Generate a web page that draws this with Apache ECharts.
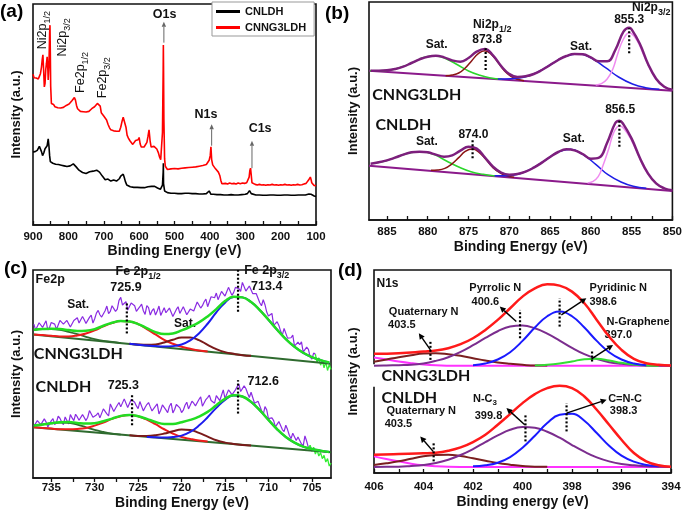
<!DOCTYPE html>
<html><head><meta charset="utf-8">
<script src="https://cdn.jsdelivr.net/npm/echarts@6/dist/echarts.min.js"></script>
<style>html,body{margin:0;padding:0;background:#fff}#c{width:685px;height:511px}</style>
</head><body><div id="c"></div>
<script>
// ---------- Panel (a): XPS survey ----------
const aRedX = [900,897,894,891,888,885,882,879,876,874,872,870,868,866,864,862,860,858,857,855,853,852,851,850,848,845,842,838,834,830,826,822,818,814,810,806,802,798,794,790,786,783,780,777,774,770,766,762,758,754,750,746,742,738,734,730,726,722,718,715,713,710,707,704,700,696,692,688,684,680,676,672,668,664,660,656,652,648,645,642,640,637,634,630,626,622,618,614,610,606,603,600,597,594,590,586,582,578,575,572,569,566,562,558,554,550,546,542,539,536,534,532,531.5,531,530,528,526,524,520,515,510,505,500,495,490,485,480,475,470,465,460,455,450,445,440,435,430,425,420,415,410,406,402,399,397,395,392,388,384,380,376,372,369,366,362,356,350,344,338,332,326,320,314,308,302,296,292,289,287,285,283,281,278,272,266,260,254,248,242,236,230,224,218,212,206,200,194,188,182,176,170,164,158,152,146,140,134,128,124,121,118,116,114,112,109,106,103,100];
const aRedY = [456,446,452,445,448,442,450,458,478,500,515,470,418,428,470,489,509,470,439,480,580,605,520,420,368,362,365,358,362,355,360,354,360,356,358,362,360,366,370,376,382,386,378,362,352,348,344,340,343,338,342,346,344,348,352,355,358,362,368,374,372,360,340,335,330,325,318,305,295,288,290,285,288,284,282,284,296,315,326,330,322,295,272,262,255,250,244,250,256,262,258,265,245,236,232,236,238,250,268,288,255,236,232,238,236,230,220,205,198,200,280,470,545,480,320,200,178,172,168,166,170,168,171,168,170,168,172,170,173,171,174,172,175,174,176,175,178,177,180,181,183,188,196,210,237,198,182,176,170,166,160,150,135,125,124,126,124,127,125,126,124,127,125,127,126,128,130,145,165,172,150,128,122,123,121,123,121,122,120,122,121,123,121,122,120,122,121,123,121,122,120,122,121,123,121,122,124,126,130,136,142,145,138,128,122,120,121,119];
const aBlkX = [900,897,894,891,888,885,882,879,876,873,871,869,866,863,860,857,855,853,851,848,844,840,836,832,828,824,820,816,812,808,804,800,795,790,786,782,778,774,770,765,760,755,750,745,740,735,730,725,720,716,712,708,704,700,696,692,688,684,680,676,672,668,664,660,656,652,648,645,642,639,635,630,625,620,615,610,605,600,595,590,585,580,575,570,565,560,556,552,548,544,540,536,534,532,531.5,531,528,524,520,515,510,500,490,480,470,460,450,440,430,420,410,405,402,400,397,390,380,370,360,350,340,330,320,310,300,294,290,288,286,283,280,270,260,250,240,230,220,210,200,190,180,170,160,150,140,130,125,120,117,114,110,105,100];
const aBlkY = [221,216,222,218,226,230,238,236,222,210,206,220,231,226,240,261,240,210,192,189,187,186,184,185,183,182,181,180,179,178,177,176,179,183,185,182,176,170,166,162,159,157,156,159,161,162,163,165,166,165,160,155,148,143,137,138,139,135,133,136,136,134,133,136,140,148,152,154,144,132,121,118,116,115,114,116,114,115,113,114,113,114,116,115,117,119,117,114,112,110,108,106,121,160,187,125,103,100,98,97,96,96,95,95,96,96,95,95,94,94,95,96,103,99,93,93,92,92,91,91,92,91,91,92,93,95,100,104,102,95,91,91,91,90,90,91,91,90,90,91,91,90,90,91,91,91,92,94,96,93,90,88,86];
const aTicks = [100,150,200,250,300,350,400,450,500,550,600,650,700,750,800,850,900];
const aLabels = [100,200,300,400,500,600,700,800,900];

// ---------- Panel (b): Ni 2p ----------
const bEnvUX = [850,851,852,853,854,855,855.3,856,857,858,859,860,861,862,863,864,865,866,867,868,869,870,871,872,873,874,875,876,877,878,879,880,881,882,883,884,885,886,887];
const bEnvU  = [391,400,424,469,529,572,577,565,510,476,476,488,497,498,492,480,465,450,438,431,429,438,462,494,513,505,486,475,479,488,493,490,482,471,460,453,449,448,448];
const bEnvLX = [850,851,852,853,854,855,856,856.5,857,858,859,860,861,862,863,864,865,866,867,868,869,870,871,872,873,874,875,876,877,878,879,880,881,882,883,884,885,886,887];
const bEnvL  = [89,95,110,140,187,244,287,298,291,232,187,184,198,209,212,204,189,172,157,145,138,136,142,160,188,214,220,208,194,190,196,203,205,203,196,187,179,173,169];
const bBgX = [850, 887.2];
const bBgU = [388, 448];
const bBgL = [87, 163];
const bGrnUX = [870.9,872.3,873.6,875.0,876.3,877.7,879.0,880.4,881.7,883.1,884.4,885.8,887.1];
const bGrnU  = [422,426,434,447,465,483,492,488,474,460,451,448,448];
const bBrnUX = [868.2,869.0,869.8,870.6,871.4,872.2,873.0,873.8,874.6,875.4,876.2,877.0,877.8];
const bBrnU  = [418,422,431,448,473,497,508,499,478,456,441,435,433];
const bBluUX = [851.6,853.3,854.9,856.6,858.2,859.9,861.5,863.2,864.8,866.5,868.1,869.8,871.4];
const bBluU  = [392,397,408,429,457,485,499,490,468,444,429,424,423];
const bPnkUX = [850.0,850.8,851.7,852.6,853.5,854.4,855.3,856.0,856.7,857.3,858.0,858.7,859.4];
const bPnkU  = [390,397,413,446,494,541,562,543,499,453,423,409,405];
const bGrnLX = [871.7,873.2,874.7,876.2,877.7,879.2,880.7,882.2,883.7,885.2,886.7];
const bGrnL  = [132,137,145,159,177,196,205,202,190,177,170];
const bBrnLX = [869.4,870.3,871.1,872.0,872.8,873.7,874.5,875.4,876.2,877.1,877.9,878.8,879.6];
const bBrnL  = [128,132,141,157,180,203,213,206,187,167,155,150,149];
const bBluLX = [853.2,854.8,856.3,857.9,859.4,861.0,862.5,864.1,865.6,867.2,868.7,870.3,871.8];
const bBluL  = [95,101,114,136,167,197,212,203,179,155,139,133,133];
const bPnkLX = [850.2,851.3,852.3,853.4,854.4,855.5,856.5,857.2,857.8,858.5,859.1,859.8,860.4];
const bPnkL  = [90,98,117,153,207,259,283,262,214,164,130,115,111];
const bTicks = [850,852.5,855,857.5,860,862.5,865,867.5,870,872.5,875,877.5,880,882.5,885];
const bLabels = [850,855,860,865,870,875,880,885];

// ---------- Panel (c): Fe 2p ----------
const cRawX = [737.0,736.6,736.2,735.8,735.4,735.0,734.6,734.2,733.8,733.4,733.0,732.6,732.2,731.8,731.4,731.0,730.6,730.2,729.8,729.4,729.0,728.6,728.2,727.8,727.4,727.0,726.6,726.2,725.8,725.4,725.0,724.6,724.2,723.8,723.4,723.0,722.6,722.2,721.8,721.4,721.0,720.6,720.2,719.8,719.4,719.0,718.6,718.2,717.8,717.4,717.0,716.6,716.2,715.8,715.4,715.0,714.6,714.2,713.8,713.4,713.0,712.6,712.2,711.8,711.4,711.0,710.6,710.2,709.8,709.4,709.0,708.6,708.2,707.8,707.4,707.0,706.6,706.2,705.8,705.4,705.0,704.6];
const cRawXmid = [736.8,736.4,736.0,735.6,735.2,734.8,734.4,734.0,733.6,733.2,732.8,732.4,732.0,731.6,731.2,730.8,730.4,730.0,729.6,729.2,728.8,728.4,728.0,727.6,727.2,726.8,726.4,726.0,725.6,725.2,724.8,724.4,724.0,723.6,723.2,722.8,722.4,722.0,721.6,721.2,720.8,720.4,720.0,719.6,719.2,718.8,718.4,718.0,717.6,717.2,716.8,716.4,716.0,715.6,715.2,714.8,714.4,714.0,713.6,713.2,712.8,712.4,712.0,711.6,711.2,710.8,710.4,710.0,709.6,709.2,708.8,708.4,708.0,707.6,707.2,706.8,706.4,706.0,705.6,705.2,704.8];
const cRawU = [461,446,468,452,444,466,461,449,477,457,468,453,475,464,484,463,481,464,494,489,485,515,499,515,506,541,515,503,524,516,501,521,490,510,501,488,515,491,495,509,484,505,493,513,489,506,500,527,509,528,513,543,540,534,559,545,571,547,571,567,586,560,575,552,552,525,534,497,488,457,468,440,448,419,420,395,407,408,375,385,356,371];
const cRawUmid = [443,465,451,471,450,462,445,472,461,472,452,472,480,462,474,463,488,477,502,482,501,492,516,499,532,518,528,508,528,499,513,501,516,488,507,500,487,510,492,504,485,513,495,508,488,511,502,528,516,536,518,540,554,535,555,541,575,556,571,559,585,563,574,549,551,516,519,485,493,456,457,428,443,417,428,396,399,377,392,363,374];
const cRawL = [155,172,160,177,153,171,160,185,168,183,162,180,191,173,190,172,202,182,189,180,207,192,222,199,218,213,237,211,235,227,208,226,211,226,201,215,192,219,204,215,195,220,210,203,227,205,224,217,243,217,241,232,224,251,248,238,264,249,264,281,256,268,241,253,225,226,190,204,176,172,151,168,139,145,118,137,123,102,126,91];
const cRawLmid = [157,177,156,168,151,178,167,179,160,181,190,172,183,171,195,182,203,179,195,182,204,186,219,209,226,213,240,215,230,216,229,201,220,213,200,222,203,215,196,224,205,218,196,218,207,230,216,235,215,235,248,228,247,232,264,243,257,245,274,259,276,254,257,224,230,202,214,178,180,153,169,145,158,128,134,112,126,96,110];
const cTailUX = [704.6,704.4,704.2,704.0,703.8,703.6,703.4,703.2,703.0,702.8];
const cTailU  = [371,345,360,338,352,330,348,322,340,325];
const cTailLX = [705.4,705.2,705.0,704.8,704.6,704.4,704.2,704.0,703.8,703.6,703.4,703.2,703.0,702.8];
const cTailL  = [91,98,80,92,72,84,66,76,58,68,48,58,36,45];
const cEnvX = [737,736,735,734,733,732,731,730,729,728,727,726,725,724,723,722,721,720,719,718,717,716,715,714,713,712,711,710,709,708,707,706,705,704,703];
const cEnvU = [444,446,447,446,443,440,441,446,456,465,470,469,461,449,437,431,433,442,453,466,484,506,530,543,541,527,503,474,444,416,393,375,362,353,346];
const cEnvL = [157,160,164,167,168,165,163,164,170,178,186,189,185,177,168,162,162,167,174,184,198,218,237,248,244,228,203,174,146,123,106,94,87,82,78];
const cSatX = [737,736,735,734,733,732,731,730,729,728,727];
const cSatU = [443,446,446,444,438,431,423,416,411,408,404];
const cSatL = [157,160,164,166,165,160,152,144,138,133,130];
const cRedX = [737,736,735,734,733,732,731,730,729,728,727,726,725,724,723,722,721,720,719,718,717];
const cRedU = [430,428,426,424,424,427,433,442,454,464,470,469,461,446,430,414,402,393,387,382,379];
const cRedL = [152,150,148,146,146,147,150,157,166,177,185,189,185,175,161,146,133,123,117,112,109];
const cBrnX = [726,725,724,723,722,721,720,719,718,717,716,715,714,713,712];
const cBrnU = [402,400,399,400,406,414,421,421,413,399,386,377,372,368,366];
const cBrnL = [128,126,126,128,133,140,145,144,135,124,113,106,102,99,97];
const cBluUX = [726,725,724,723,722,721,720,719,718,717,716,715,714,713,712,711,710,709,708,707,706,705,704,703];
const cBluU  = [402,399,397,395,394,395,400,412,433,462,496,525,542,541,527,503,474,444,416,393,375,362,353,346];
const cBluLX = [724,723,722,721,720,719,718,717,716,715,714,713,712,711,710,709,708,707,706,705,704,703];
const cBluL  = [123,122,121,123,127,138,157,182,210,234,247,244,228,203,174,146,123,106,94,87,82,78];
const cBgX = [737.1, 702.8];
const cBgU = [430, 342];
const cBgL = [152, 77];
const cTicks = [705,707.5,710,712.5,715,717.5,720,722.5,725,727.5,730,732.5,735];
const cLabels = [705,710,715,720,725,730,735];

// ---------- Panel (d): N 1s ----------
const dEnvX = [406,405,404,403.5,403,402.5,402,401.5,401,400.5,400,399.5,399,398.5,398,397.5,397,396.5,396,395.5,395,394.5,394];
const dEnvU = [358,360,365,368,375,387,405,430,460,495,530,555,567,563,545,510,460,410,370,343,330,325,323];
const dEnvL = [55,57,59,61,67,77,93,115,145,177,210,237,255,262,255,230,190,145,100,60,35,23,19];
const dMagX = [406,405.5,405,404.5,404,403.5,403,402,394];
const dMagU = [347,341,335,330,326,323.5,322.5,322,322];
const dMagL = [50,42,35,28,23,20,18.5,18,18];
const dQuaX = [406,405.5,405,404.5,404,403.5,403,402.5,402,401.5,401,400.5,400,399.5,399];
const dQuaU = [334,341,348,354,359,360,357,352,345,338,332,328,325,323,323];
const dQuaL = [24,29,35,43,50,54,55,51,44,37,30,25,21,19,19];
const dPyrX = [406,405.5,405,404.5,404,403.5,403,402.5,402,401.5,401,400.5,400,399.5,399,398.5,398,397.5,397,396.5,396,395.5,395,394.5,394];
const dPyrU = [322,323,324,325,329,337,348,364,384,406,426,440,443,435,419,398,376,357,343,333,328,325,323,322,322];
const dPyrL = [18,19,19,21,24,30,40,54,72,93,113,130,138,136,124,106,84,64,47,35,27,23,20,19,18];
const dPydUX = [402,401.5,401,400.5,400,399.5,399,398.5,398,397.5,397,396.5,396,395.5,395];
const dPydU  = [324,329,341,363,397,437,471,485,471,437,397,363,341,329,324];
const dPydLX = [402,401.5,401,400.5,400,399.5,399,398.5,398,397.5,397,396.5,396,395.5,395,394.5];
const dPydL  = [20,23,31,48,76,112,150,175,178,157,120,82,52,34,24,20];
const dGraX = [399.5,399,398.5,398,397.5,397,396.5,396,395.5,395,394.5];
const dGraU = [323,325,329,335,342,343,338,331,326,323,322];
const dTicks = [394,395,396,397,398,399,400,401,402,403,404,405,406];
const dLabels = [394,396,398,400,402,404,406];

// ---------- build ----------
const FONT = '"Liberation Sans", Arial, sans-serif';
const FONT2 = 'Lato, "Open Sans", sans-serif';
const INK = '#111';
function zip(xs, ys) { return xs.map((x, i) => [x, ys[i]]); }
function interleave(xa, ya, xb, yb) {
  const out = [];
  for (let i = 0; i < ya.length; i++) {
    out.push([xa[i], ya[i]]);
    if (i < yb.length) out.push([xb[i], yb[i]]);
  }
  return out;
}
const series = [];
function Ld(name, g, data, color, width, smooth) {
  series.push({
    type: 'line', name: name, xAxisIndex: g, yAxisIndex: g, data: data,
    symbol: 'none', showSymbol: false, smooth: smooth ? 0.45 : false,
    lineStyle: { color: color, width: width }, itemStyle: { color: color },
    silent: true, animation: false
  });
}
function L(name, g, xs, ys, color, width, smooth) { Ld(name, g, zip(xs, ys), color, width, smooth); }
// a
L('CNLDH', 0, aBlkX, aBlkY, '#000000', 1.6, false);
L('CNNG3LDH', 0, aRedX, aRedY, '#ff0000', 1.6, false);
// b
const BG = '#8B1A8B', GR = '#2BD62B', BR = '#8B1414', BL = '#1E1EE6', PK = '#F08CF0', EV = '#7D1F7D';
L('bBgU', 1, bBgX, bBgU, BG, 2, false);
L('bGrnU', 1, bGrnUX, bGrnU, GR, 1.5, true);
L('bBrnU', 1, bBrnUX, bBrnU, BR, 1.5, true);
L('bBluU', 1, bBluUX, bBluU, BL, 1.5, true);
L('bPnkU', 1, bPnkUX, bPnkU, PK, 1.5, true);
L('bEnvU', 1, bEnvUX, bEnvU, EV, 2.5, true);
L('bBgL', 1, bBgX, bBgL, BG, 2, false);
L('bGrnL', 1, bGrnLX, bGrnL, GR, 1.5, true);
L('bBrnL', 1, bBrnLX, bBrnL, BR, 1.5, true);
L('bBluL', 1, bBluLX, bBluL, BL, 1.5, true);
L('bPnkL', 1, bPnkLX, bPnkL, PK, 1.5, true);
L('bEnvL', 1, bEnvLX, bEnvL, EV, 2.5, true);
// c
const RAW = '#8A2BE2', TAIL = '#33EE33', DG = '#2F6B2F', CR = '#EE1C1C', CB = '#7A1A1A', CBL = '#1C1CEE', CEV = '#22DD22';
Ld('cRawU', 2, interleave(cRawX, cRawU, cRawXmid, cRawUmid), RAW, 1.2, false);
L('cTailU', 2, cTailUX, cTailU, TAIL, 1.3, false);
Ld('cRawL', 2, interleave(cRawX, cRawL, cRawXmid, cRawLmid), RAW, 1.2, false);
L('cTailL', 2, cTailLX, cTailL, TAIL, 1.3, false);
L('cBgU', 2, cBgX, cBgU, DG, 2, false);
L('cSatU', 2, cSatX, cSatU, DG, 1.8, true);
L('cRedU', 2, cRedX, cRedU, CR, 2, true);
L('cBrnU', 2, cBrnX, cBrnU, CB, 2, true);
L('cBluU', 2, cBluUX, cBluU, CBL, 2, true);
L('cEnvU', 2, cEnvX, cEnvU, CEV, 2.5, true);
L('cBgL', 2, cBgX, cBgL, DG, 2, false);
L('cSatL', 2, cSatX, cSatL, DG, 1.8, true);
L('cRedL', 2, cRedX, cRedL, CR, 2, true);
L('cBrnL', 2, cBrnX, cBrnL, CB, 2, true);
L('cBluL', 2, cBluLX, cBluL, CBL, 2, true);
L('cEnvL', 2, cEnvX, cEnvL, CEV, 2.5, true);
// d
const MG = '#FF33FF', DQ = '#7A1F1F', DP = '#7B2D8E', DB = '#1A1AFF', DGR = '#33DD33', DR = '#FF1A1A';
L('dMagU', 3, dMagX, dMagU, MG, 2, true);
L('dQuaU', 3, dQuaX, dQuaU, DQ, 2, true);
L('dPyrU', 3, dPyrX, dPyrU, DP, 2, true);
L('dGraU', 3, dGraX, dGraU, DGR, 2, true);
L('dPydU', 3, dPydUX, dPydU, DB, 2, true);
L('dEnvU', 3, dEnvX, dEnvU, DR, 2.5, true);
L('dMagL', 3, dMagX, dMagL, MG, 2, true);
L('dQuaL', 3, dQuaX, dQuaL, DQ, 2, true);
L('dPyrL', 3, dPyrX, dPyrL, DP, 2, true);
L('dPydL', 3, dPydLX, dPydL, DB, 2, true);
L('dEnvL', 3, dEnvX, dEnvL, DR, 2.5, true);

const grids = [
  { left: 33, top: 4, width: 283, height: 221 },
  { left: 369, top: 2, width: 304, height: 218 },
  { left: 33, top: 270, width: 298, height: 208 },
  { left: 374, top: 270, width: 297, height: 203 }
].map(g => Object.assign(g, { show: true, borderColor: INK, borderWidth: 1.6, backgroundColor: 'transparent' }));

function xA(g, min, max, ticks, labels, inside, margin, gap, name) {
  return {
    gridIndex: g, type: 'value', inverse: true, min: min, max: max,
    axisLine: { show: true, onZero: false, lineStyle: { color: INK, width: 1.6 } },
    axisTick: { show: true, inside: inside, length: 4, customValues: ticks, lineStyle: { color: INK, width: 1.3 } },
    axisLabel: { customValues: labels, fontSize: 11.5, fontWeight: 'bold', color: INK, margin: margin, fontFamily: FONT },
    splitLine: { show: false },
    name: name, nameLocation: 'middle', nameGap: gap,
    nameTextStyle: { fontSize: 14, fontWeight: 'bold', color: INK, fontFamily: FONT }
  };
}
function yA(g, max, gap) {
  return {
    gridIndex: g, type: 'value', min: 0, max: max,
    axisLine: { show: false }, axisTick: { show: false }, axisLabel: { show: false }, splitLine: { show: false },
    name: 'Intensity (a.u.)', nameLocation: 'middle', nameGap: gap, nameRotate: 90,
    nameTextStyle: { fontSize: 13, fontWeight: 'bold', color: INK, fontFamily: FONT }
  };
}

const option = {
  animation: false,
  textStyle: { fontFamily: FONT },
  grid: grids,
  xAxis: [
    xA(0, 100, 900, aTicks, aLabels, true, 6, 18, 'Binding Energy (eV)'),
    xA(1, 850, 887.2, bTicks, bLabels, true, 6, 20, 'Binding Energy (eV)'),
    xA(2, 702.8, 737.1, cTicks, cLabels, false, 4, 18, 'Binding Energy (eV)'),
    xA(3, 394, 406, dTicks, dLabels, true, 8, 22, 'Binding energy (eV)')
  ],
  yAxis: [yA(0, 669, 10), yA(1, 654, 9), yA(2, 623, 10), yA(3, 610, 14)],
  legend: {
    data: ['CNLDH', 'CNNG3LDH'], left: 212, top: 2, orient: 'vertical',
    itemWidth: 24, itemHeight: 3, itemGap: 5, icon: 'rect', selectedMode: false,
    textStyle: { fontSize: 11, fontWeight: 'bold', color: INK, fontFamily: FONT },
    borderColor: '#999', borderWidth: 1, padding: [4, 8, 3, 4], backgroundColor: '#fff'
  },
  series: series
};
const chart = echarts.init(document.getElementById('c'), null, { renderer: 'canvas' });
chart.setOption(option);

// ---------- annotations ----------
const mctx = document.createElement('canvas').getContext('2d');
function px(g, x, y) { return chart.convertToPixel({ gridIndex: g }, [x, y]); }
function lbl(g, x, y, parts, o) {
  o = o || {};
  const p = px(g, x, y);
  const size = o.size || 12, weight = o.weight || 'bold', fam = o.fam || FONT;
  const subSize = Math.round(size * 0.72);
  const items = parts.map(pt => {
    const sub = pt[1] === 's'; const fs = sub ? subSize : size;
    mctx.font = weight + ' ' + fs + 'px ' + fam;
    return { t: pt[0], sub: sub, fs: fs, w: mctx.measureText(pt[0]).width };
  });
  const W = items.reduce((s, i) => s + i.w, 0);
  let cx = o.align === 'left' ? 0 : -W / 2;
  const children = [];
  if (o.bg) {
    children.push({ type: 'rect', shape: { x: cx - o.bg, y: -size * 0.7, width: W + o.bg + 2, height: size * 1.4 }, style: { fill: '#fff' } });
  }
  items.forEach(it => {
    children.push({ type: 'text', x: cx, y: it.sub ? size * 0.38 : 0,
      style: { text: it.t, fontSize: it.fs, fontWeight: weight, fontFamily: fam, fill: o.color || INK,
               align: 'left', verticalAlign: 'middle', textAlign: 'left', textVerticalAlign: 'middle' } });
    cx += it.w;
  });
  return { type: 'group', x: p[0], y: p[1], rotation: o.rot ? o.rot * Math.PI / 180 : 0, children: children, z: 100 };
}
function dot(g, x, y1, y2) {
  const a = px(g, x, y1), b = px(g, x, y2);
  return { type: 'line', shape: { x1: a[0], y1: a[1], x2: b[0], y2: b[1] }, style: { stroke: '#000', lineWidth: 2.2, lineDash: [2, 2] }, z: 100 };
}
function arrow(g, x1, y1, x2, y2, color, lw, hl, hw) {
  const a = px(g, x1, y1), b = px(g, x2, y2);
  const ang = Math.atan2(b[1] - a[1], b[0] - a[0]);
  const c = Math.cos(ang), s = Math.sin(ang);
  const bx = b[0] - hl * c, by = b[1] - hl * s;
  return [
    { type: 'line', shape: { x1: a[0], y1: a[1], x2: bx, y2: by }, style: { stroke: color, lineWidth: lw }, z: 100 },
    { type: 'polygon', shape: { points: [[b[0], b[1]], [bx - hw * s, by + hw * c], [bx + hw * s, by - hw * c]] }, style: { fill: color }, z: 100 }
  ];
}
const N = (t) => [t, 'n'], SB = (t) => [t, 's'];
let G = [];
// panel labels
[['(a)', 0, 2], ['(b)', 325, 4], ['(c)', 4, 259], ['(d)', 338, 261]].forEach(l => {
  G.push({ type: 'text', x: l[1], y: l[2], style: { text: l[0], fontSize: 19, fontWeight: 'bold', fontFamily: FONT, fill: '#000', align: 'left', verticalAlign: 'top', textAlign: 'left', textVerticalAlign: 'top' }, z: 100 });
});
// (a)
G.push(lbl(0, 871.7, 590, [N('Ni2p'), SB('1/2')], { size: 12.5, weight: 'normal', rot: 90 }));
G.push(lbl(0, 816.6, 568, [N('Ni2p'), SB('3/2')], { size: 12.5, weight: 'normal', rot: 90 }));
G.push(lbl(0, 765.7, 462, [N('Fe2p'), SB('1/2')], { size: 12.5, weight: 'normal', rot: 90 }));
G.push(lbl(0, 702, 446, [N('Fe2p'), SB('3/2')], { size: 12.5, weight: 'normal', rot: 90 }));
G.push(lbl(0, 528, 636, [N('O1s')], { size: 12.5 }));
G.push(lbl(0, 411, 333, [N('N1s')], { size: 12.5 }));
G.push(lbl(0, 258, 293, [N('C1s')], { size: 12.5 }));
G = G.concat(arrow(0, 530, 552, 530, 615, '#666', 1, 5, 2.2));
G = G.concat(arrow(0, 395, 240, 395, 305, '#666', 1, 5, 2.2));
G = G.concat(arrow(0, 281, 172, 281, 255, '#666', 1, 5, 2.2));
// (b)
G.push(lbl(1, 878.9, 525, [N('Sat.')]));
G.push(lbl(1, 872.1, 585, [N('Ni2p'), SB('1/2')]));
G.push(lbl(1, 872.7, 540, [N('873.8')]));
G.push(lbl(1, 861.2, 520, [N('Sat.')]));
G.push(lbl(1, 855.3, 600, [N('855.3')]));
G.push(lbl(1, 852.6, 636, [N('Ni2p'), SB('3/2')]));
G.push(lbl(1, 886.8, 375, [N('CNNG3LDH')], { align: 'left', size: 16, fam: FONT2 }));
G.push(lbl(1, 886.4, 285, [N('CNLDH')], { align: 'left', size: 16, fam: FONT2 }));
G.push(lbl(1, 880.1, 235, [N('Sat.')]));
G.push(lbl(1, 874.4, 255, [N('874.0')]));
G.push(lbl(1, 862.1, 245, [N('Sat.')]));
G.push(lbl(1, 856.4, 330, [N('856.5')]));
G.push(dot(1, 872.9, 450, 515));
G.push(dot(1, 855.3, 500, 575));
G.push(dot(1, 874.5, 185, 240));
G.push(dot(1, 856.5, 220, 300));
// (c)
G.push(lbl(2, 736.8, 593, [N('Fe2p')], { align: 'left', size: 12.5 }));
G.push(lbl(2, 725.0, 618, [N('Fe 2p'), SB('1/2')], { size: 12.5 }));
G.push(lbl(2, 726.4, 570, [N('725.9')], { size: 12.5 }));
G.push(lbl(2, 731.9, 520, [N('Sat.')]));
G.push(lbl(2, 719.6, 463, [N('Sat.')]));
G.push(lbl(2, 710.2, 620, [N('Fe 2p'), SB('3/2')], { size: 12.5 }));
G.push(lbl(2, 710.2, 573, [N('713.4')], { size: 12.5 }));
G.push(lbl(2, 737.0, 373, [N('CNNG3LDH')], { align: 'left', size: 16, fam: FONT2 }));
G.push(lbl(2, 736.8, 273, [N('CNLDH')], { align: 'left', size: 16, fam: FONT2 }));
G.push(lbl(2, 726.7, 278, [N('725.3')], { size: 12.5 }));
G.push(lbl(2, 710.6, 288, [N('712.6')], { size: 12.5 }));
G.push(dot(2, 726.3, 433, 528));
G.push(dot(2, 713.5, 498, 623));
G.push(dot(2, 725.7, 158, 253));
G.push(dot(2, 713.5, 193, 293));
// (d)
G.push(lbl(3, 405.9, 570, [N('N1s')], { align: 'left', size: 12 }));
G.push(lbl(3, 405.4, 485, [N('Quaternary N')], { align: 'left', size: 11 }));
G.push(lbl(3, 405.43, 445, [N('403.5')], { align: 'left', size: 11 }));
G = G.concat(arrow(3, 403.72, 370, 404.19, 420, '#000', 1.4, 6, 3));
G.push(dot(3, 403.72, 340, 400));
G.push(lbl(3, 401.1, 555, [N('Pyrrolic N')], { size: 11 }));
G.push(lbl(3, 401.5, 513, [N('400.6')], { size: 11 }));
G = G.concat(arrow(3, 400.25, 455, 400.92, 500, '#000', 1.4, 6, 3));
G.push(dot(3, 400.1, 405, 490));
G.push(lbl(3, 396.13, 557, [N('Pyridinic N')], { size: 11 }));
G.push(lbl(3, 396.74, 515, [N('398.6')], { size: 11 }));
G = G.concat(arrow(3, 398.43, 475, 397.42, 525, '#000', 1.4, 6, 3));
G.push(dot(3, 398.5, 440, 525));
G.push(lbl(3, 395.33, 455, [N('N-Graphene')], { size: 11 }));
G.push(lbl(3, 396.13, 415, [N('397.0')], { size: 11 }));
G = G.concat(arrow(3, 397.21, 343, 396.34, 385, '#000', 1.4, 6, 3));
G.push(dot(3, 397.19, 335, 370));
G.push(lbl(3, 405.7, 293, [N('CNNG3LDH')], { align: 'left', size: 16, fam: FONT2, bg: 10 }));
G.push(lbl(3, 405.7, 225, [N('CNLDH')], { align: 'left', size: 16, fam: FONT2 }));
G.push(lbl(3, 405.5, 187, [N('Quaternary N')], { align: 'left', size: 11 }));
G.push(lbl(3, 405.57, 147, [N('403.5')], { align: 'left', size: 11 }));
G = G.concat(arrow(3, 403.61, 65, 404.13, 110, '#000', 1.4, 6, 3));
G.push(dot(3, 403.59, 35, 90));
G.push(lbl(3, 402.0, 223, [N('N-C'), SB('3')], { align: 'left', size: 11 }));
G.push(lbl(3, 401.93, 170, [N('399.8')], { align: 'left', size: 11 }));
G = G.concat(arrow(3, 399.91, 145, 400.65, 195, '#000', 1.4, 6, 3));
G.push(dot(3, 399.88, 95, 175));
G.push(lbl(3, 396.54, 223, [N('C=N-C')], { align: 'left', size: 11 }));
G.push(lbl(3, 396.47, 185, [N('398.3')], { align: 'left', size: 11 }));
G = G.concat(arrow(3, 398.22, 180, 396.6, 220, '#000', 1.4, 6, 3));
G.push(dot(3, 398.22, 125, 210));

chart.setOption({ graphic: { elements: G } });
</script>
</body></html>
